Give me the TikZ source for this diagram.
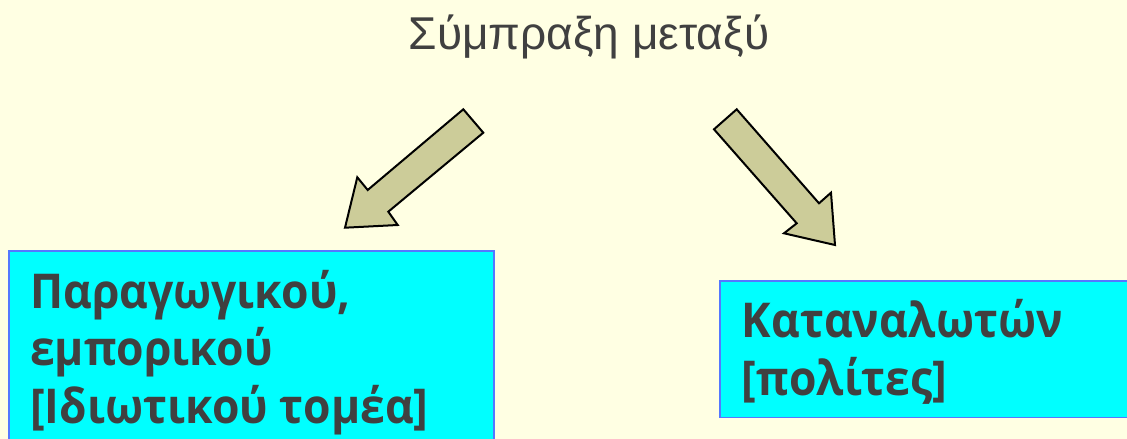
\documentclass[tikz,border=0pt]{standalone}
\usepackage{fontspec}
\setmainfont{Liberation Sans}
\newfontfamily\boxfont{Open Sans}[FakeStretch=0.925]
\definecolor{bg}{HTML}{FFFFE3}
\definecolor{arrowfill}{HTML}{CCCC99}
\definecolor{boxfill}{HTML}{00FFFF}
\definecolor{boxline}{HTML}{5577FF}
\definecolor{txt}{HTML}{404040}
\tikzset{
  blockarrow/.style={fill=arrowfill, draw=black, line width=2pt, line join=miter},
  panel/.style={draw=boxline, fill=boxfill, line width=1.5pt, inner sep=0pt, anchor=north west},
  boxtext/.style={anchor=base west, align=left, inner sep=0pt, text=txt,
    font=\boxfont\bfseries\fontsize{48}{57.5}\selectfont},
  titletext/.style={anchor=base, inner sep=0pt, text=txt, font=\fontsize{46}{56}\selectfont}
}
\begin{document}
\begin{tikzpicture}[x=1pt,y=-1pt]
  \fill[bg] (0,0) rectangle (1127,439);
  \useasboundingbox (0,0) rectangle (1127,439);
  \node[titletext] (title) at (589,49) {Σύμπραξη μεταξύ};
  % left block arrow
  \draw[blockarrow] (463.3,109.3) -- (483.3,132.7) -- (388.3,211.7) -- (397.7,225)
    -- (345,227.7) -- (357.3,177.3) -- (367.7,190) -- cycle;
  % right block arrow
  \draw[blockarrow] (736.7,109.3) -- (714,129.3) -- (796.7,223.3) -- (784,233.3)
    -- (835,245) -- (831,192.7) -- (819,203.3) -- cycle;
  % boxes
  \node[panel, minimum width=484.7pt, minimum height=200pt] (leftbox) at (8.3,250) {};
  \node[panel, minimum width=420pt, minimum height=136.7pt] (rightbox) at (719.3,280) {};
  \node[boxtext] (lefttext) at (30,423) {Παραγωγικού,\\εμπορικού\\{[}Ιδιωτικού τομέα{]}};
  \node[boxtext] (righttext) at (741.7,395) {Καταναλωτών\\{[}πολίτες{]}};
\end{tikzpicture}
\end{document}
